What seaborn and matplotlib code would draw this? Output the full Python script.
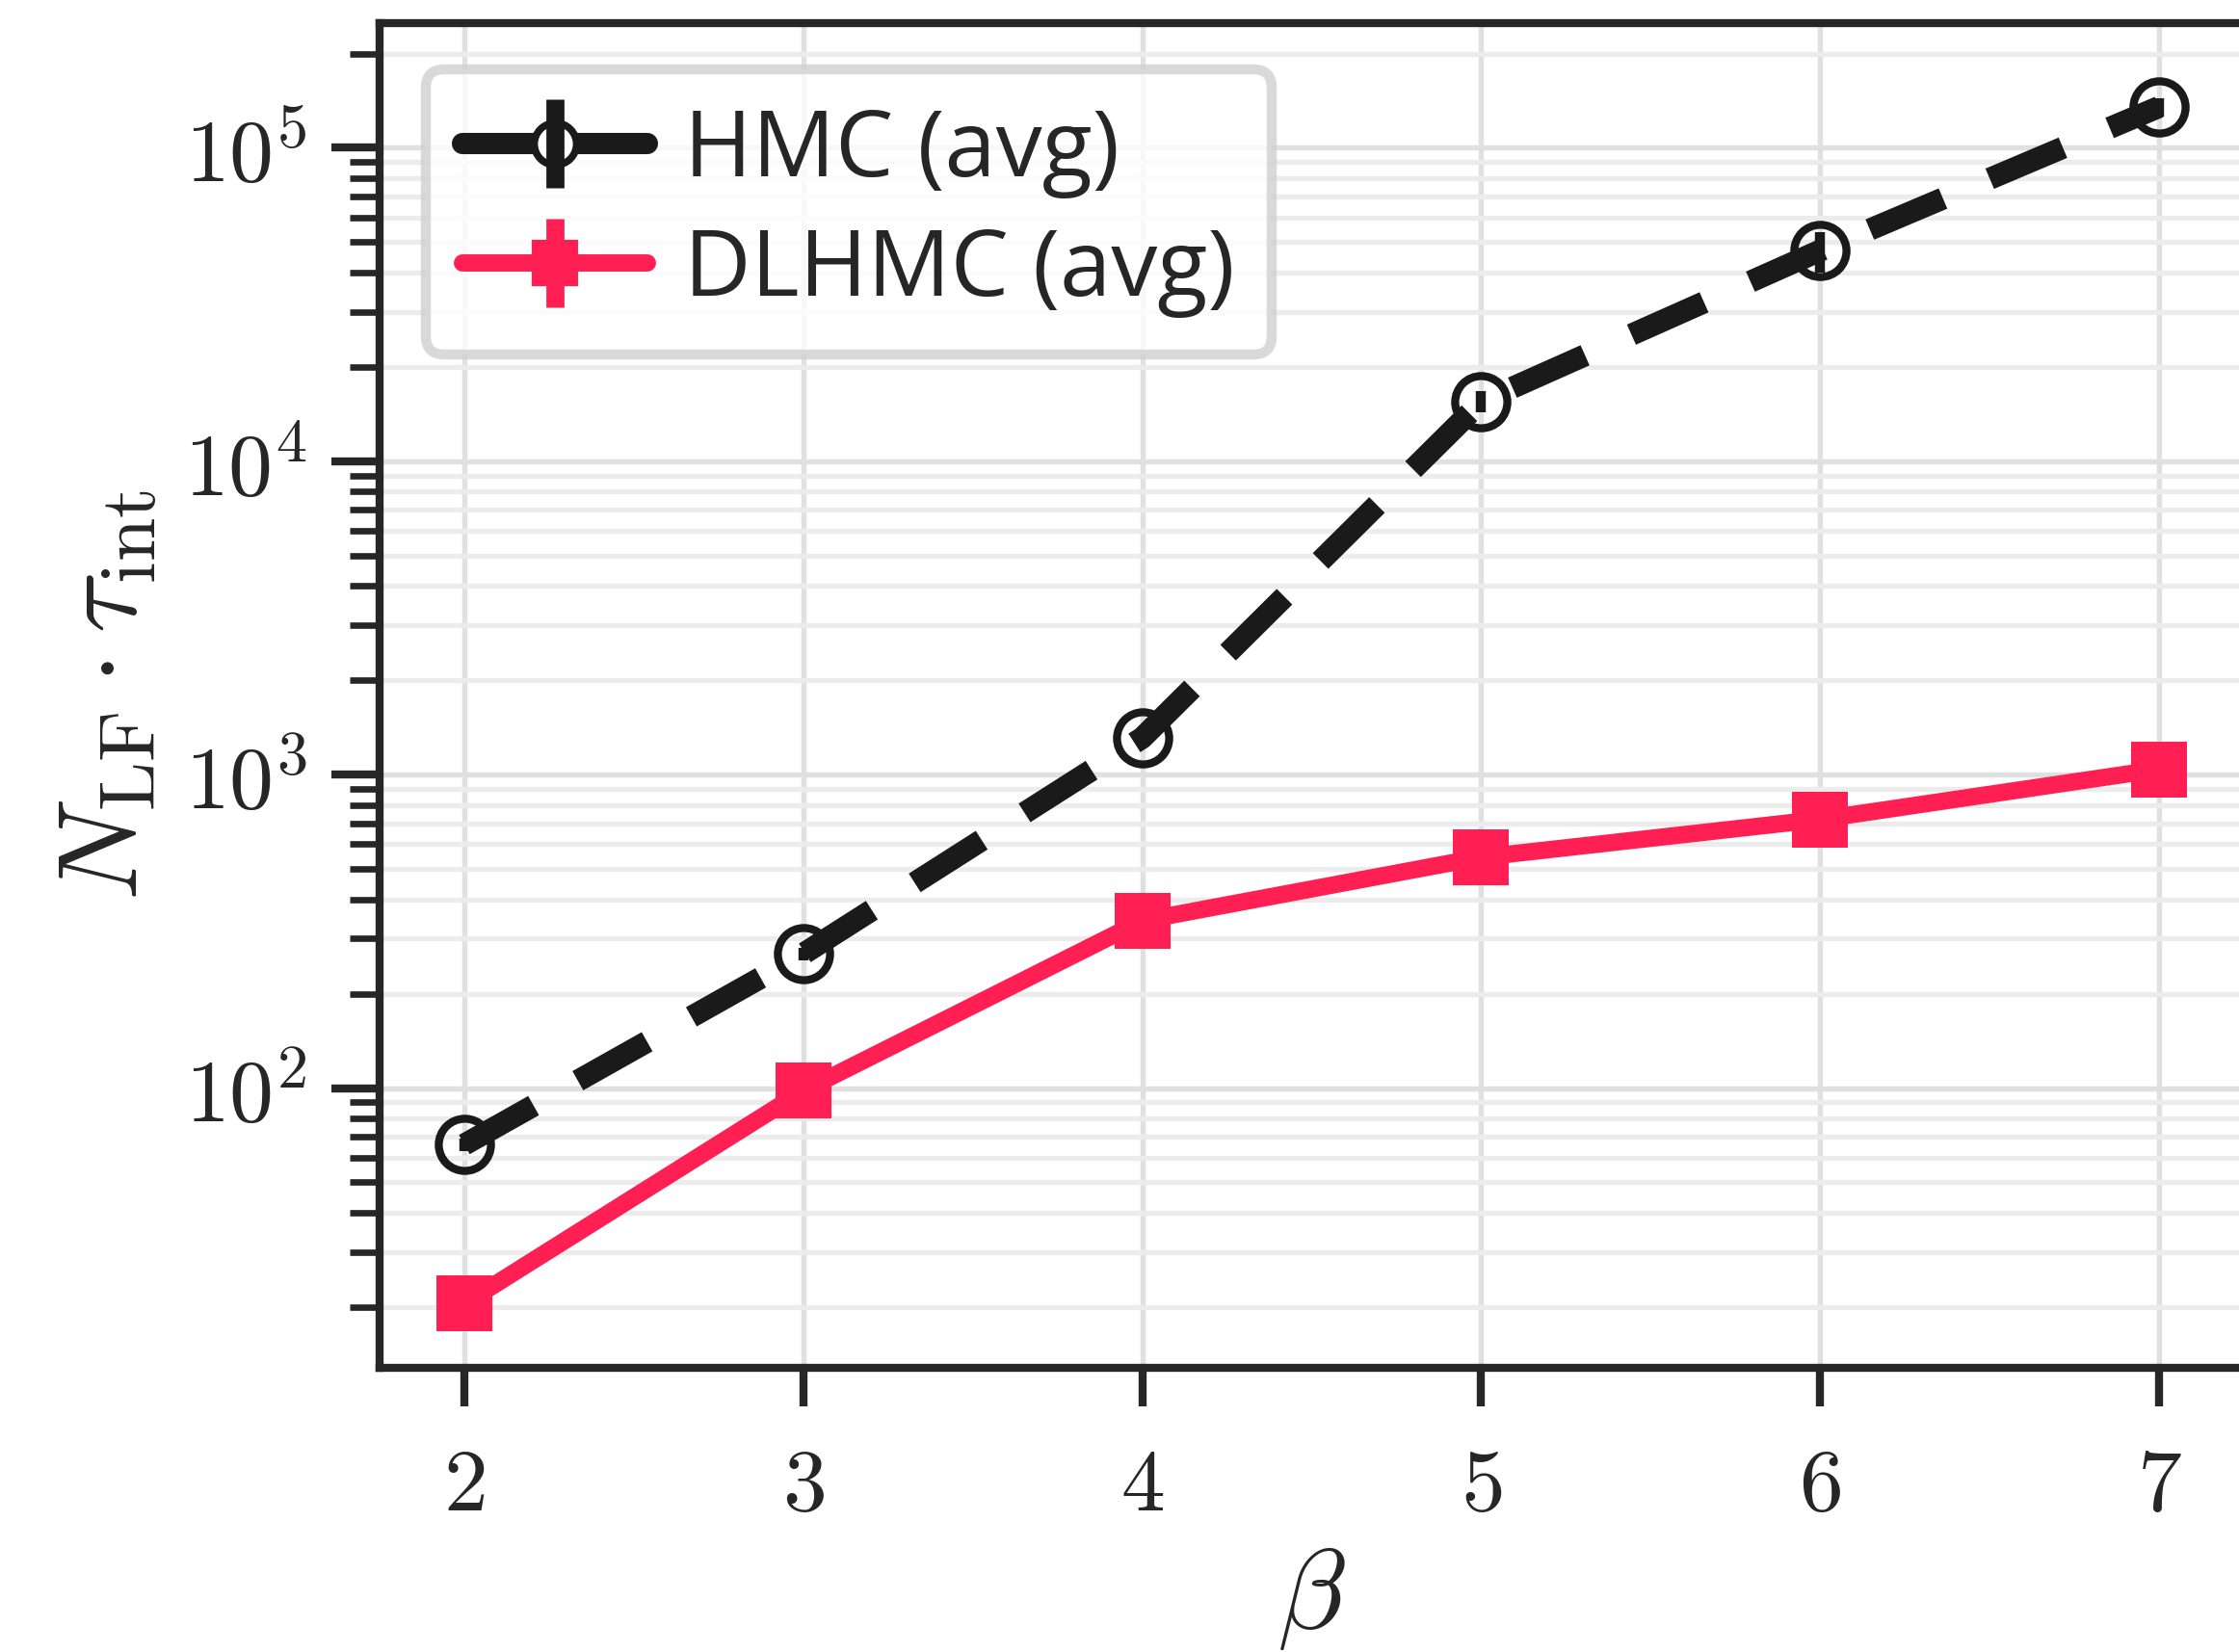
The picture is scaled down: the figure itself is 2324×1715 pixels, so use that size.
import numpy as np
import pandas as pd
import matplotlib
matplotlib.use('Agg')
import matplotlib.pyplot as plt
import seaborn as sns
from matplotlib.lines import Line2D
from matplotlib.legend_handler import HandlerTuple
from matplotlib.ticker import LogLocator, FuncFormatter, NullFormatter

# values
beta = [2, 3, 4, 5, 6, 7]
hmc_cost = [66, 268, 1310, 15500, 47000, 135000]
hmc_err = [3, 12, 70, 1200, 7000, 9000]
dlhmc_cost = [20.5, 98, 342, 545, 720, 1040]
dlhmc_err = [1, 4, 15, 25, 30, 45]
labels = ['HMC (avg)', 'DLHMC (avg)']

black = '#1a1a1a'
red = '#ff1f53'

sns.set_theme(style='ticks')
plt.rcParams['mathtext.fontset'] = 'cm'
plt.rcParams['font.family'] = ['DejaVu Sans']

hmc = pd.DataFrame({'beta': beta, 'cost': hmc_cost})
dlhmc = pd.DataFrame({'beta': beta, 'cost': dlhmc_cost})

fig = plt.figure(figsize=(2324 / 300, 1715 / 300), dpi=300)
ax = fig.add_axes([394 / 2324, 295 / 1715, 1935 / 2324, 1396 / 1715])

#HMC: dashed black, open circles
sns.lineplot(data=hmc, x='beta', y='cost', ax=ax, color=black, lw=5.5, marker='o', ms=13,
             mfc='none', mec=black, mew=2, errorbar=None, zorder=3)
ax.lines[-1].set_dashes((3.6, 2.3))
ax.errorbar(beta, hmc_cost, yerr=hmc_err, fmt='none', ecolor=black, elinewidth=2.5, capsize=0, zorder=3)

#DLHMC: solid red, squares
sns.lineplot(data=dlhmc, x='beta', y='cost', ax=ax, color=red, lw=4.3, marker='s', ms=14,
             mec=red, mew=0, errorbar=None, zorder=4)
ax.errorbar(beta, dlhmc_cost, yerr=dlhmc_err, fmt='none', ecolor=red, elinewidth=2.5, capsize=0, zorder=4)

ax.set_yscale('log')
ax.set_xlim(1.75, 7.25)
ax.set_ylim(12.8, 2.5e5)

ax.set_xticks(beta)
ax.xaxis.set_major_formatter(FuncFormatter(lambda v, p: r'$%d$' % v))
ax.yaxis.set_major_locator(LogLocator(base=10, numticks=10))
ax.yaxis.set_minor_locator(LogLocator(base=10, subs=np.arange(2, 10), numticks=20))
ax.yaxis.set_major_formatter(FuncFormatter(lambda v, p: r'$10^{%d}$' % round(np.log10(v))))
ax.yaxis.set_minor_formatter(NullFormatter())

ax.grid(True, which='major', color='#e0e0e0', lw=1.3, zorder=0)
ax.grid(True, which='minor', axis='y', color='#ececec', lw=1.3, zorder=0)
ax.set_axisbelow(True)

ax.tick_params(axis='y', which='major', length=12, width=2, labelsize=22, pad=6, color='#262626')
ax.tick_params(axis='y', which='minor', length=7.5, width=1.6, color='#262626')
ax.tick_params(axis='x', which='major', length=9.5, width=2, labelsize=22, pad=9, color='#262626')
for s in ['left', 'bottom', 'top']:
    ax.spines[s].set_linewidth(2)
    ax.spines[s].set_color('#262626')
ax.spines['right'].set_visible(False)

ax.set_xlabel(r'$\beta$', fontsize=28, labelpad=3)
ax.set_ylabel(r'$N_{\rm LF}\cdot\tau_{\rm int}$', fontsize=28, labelpad=5.5)

h1 = (Line2D([], [], color=black, lw=5.3, marker='o', ms=10.5, mfc='white', mec=black, mew=1.8),
      Line2D([], [], color=black, lw=0, marker='|', ms=22, mew=4.5))
h2 = (Line2D([], [], color=red, lw=4.3, solid_capstyle='round', marker='s', ms=10.5, mec=red),
      Line2D([], [], color=red, lw=0, marker='|', ms=22, mew=4.5))
leg = ax.legend([h1, h2], labels, handler_map={tuple: HandlerTuple(ndivide=1, pad=0)},
                loc='upper left', prop={'family': 'Open Sans', 'size': 23}, frameon=True,
                fancybox=True, framealpha=0.8, edgecolor='#d0d0d0', borderaxespad=0.5,
                handlelength=2.0, handletextpad=0.4, labelspacing=0.3)
leg.get_frame().set_linewidth(2.5)

fig.savefig('out.png', dpi=300)
